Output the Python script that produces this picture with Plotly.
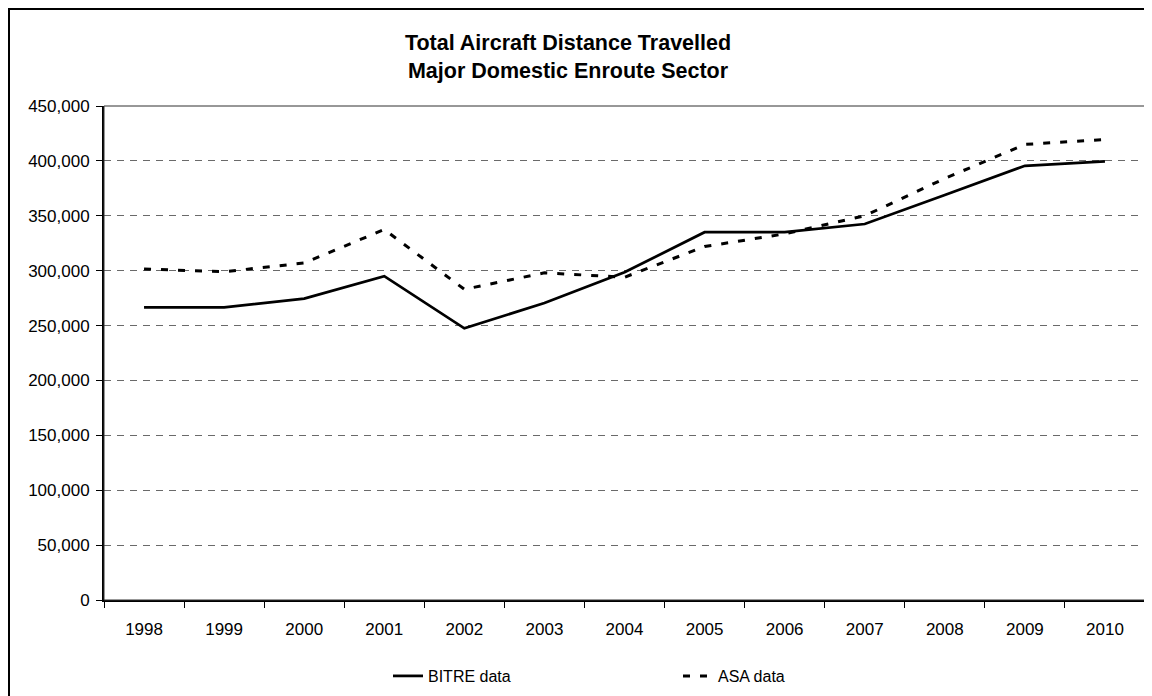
import plotly.graph_objects as go

years = ["1998", "1999", "2000", "2001", "2002", "2003", "2004",
         "2005", "2006", "2007", "2008", "2009", "2010"]
bitre = [266500, 266500, 274500, 295000, 247500, 270500, 298500,
         335000, 335000, 342500, 369000, 395500, 399500]
asa = [301500, 299000, 307000, 337500, 283000, 298000, 294000,
       322000, 333500, 350000, 384000, 415000, 419500]
y_ticks = list(range(0, 450001, 50000))

FONT = "Arial, Liberation Sans, sans-serif"

fig = go.Figure()
fig.add_trace(go.Scatter(x=years, y=bitre, mode="lines", name="BITRE data",
                         line=dict(color="black", width=2.75)))
fig.add_trace(go.Scatter(x=years, y=asa, mode="lines", name="ASA data",
                         line=dict(color="black", width=3, dash="7px,10px")))

# page has an 8px body margin; figure coordinates are page coordinates minus 8
OFF = 8
W, H = 1152 - OFF, 696 - OFF
L, R, T, B = 104 - OFF, 1145 - OFF, 106 - OFF, 600 - OFF
pw, ph = R - L, B - T

fig.update_layout(
    width=W, height=H,
    margin=dict(l=L, r=W - R, t=T, b=H - B, pad=0, autoexpand=False),
    paper_bgcolor="white", plot_bgcolor="white",
    font=dict(family=FONT, size=17, color="black"),
    title=dict(text="<b>Total Aircraft Distance Travelled<br>Major Domestic Enroute Sector</b>",
               x=(568 - OFF) / W, xanchor="center", y=1 - (50 - OFF) / H, yanchor="middle",
               font=dict(family=FONT, size=21.5, color="black")),
    showlegend=True,
    legend=dict(orientation="h", xref="container", yref="container",
                x=(388 - OFF) / W, xanchor="left",
                y=1 - (676 - OFF) / H, yanchor="middle",
                font=dict(family=FONT, size=16, color="black"),
                entrywidth=245, entrywidthmode="pixels",
                bgcolor="rgba(0,0,0,0)"),
    xaxis=dict(type="category", tickson="boundaries", ticks="outside", ticklen=6,
               tickcolor="black", tickwidth=1, showline=True, linecolor="black",
               linewidth=2, showgrid=False, range=[-0.5, 12.5], ticklabelstandoff=13,
               automargin=False,
               tickfont=dict(family=FONT, size=17, color="black")),
    yaxis=dict(range=[0, 450000], tickvals=y_ticks, tickformat=",", ticks="outside",
               ticklen=6, tickcolor="black", tickwidth=1, showline=True,
               linecolor="black", linewidth=2, showgrid=True, gridcolor="#6a6a6a",
               gridwidth=1, griddash="7px,6px", zeroline=False, ticklabelstandoff=3,
               automargin=False,
               tickfont=dict(family=FONT, size=17, color="black")),
    shapes=[
        dict(type="rect", xref="paper", yref="paper", x0=0, x1=1, y0=0, y1=1,
             line=dict(color="#303030", width=1), fillcolor="rgba(0,0,0,0)", layer="above"),
        dict(type="rect", xref="paper", yref="paper",
             x0=(1 - L) / pw, x1=(W + 20 - L) / pw,
             y0=-(H + 20 - B) / ph, y1=1 + (T - 1) / ph,
             line=dict(color="black", width=2), fillcolor="rgba(0,0,0,0)", layer="above"),
    ],
)

fig.write_html("out.html")
